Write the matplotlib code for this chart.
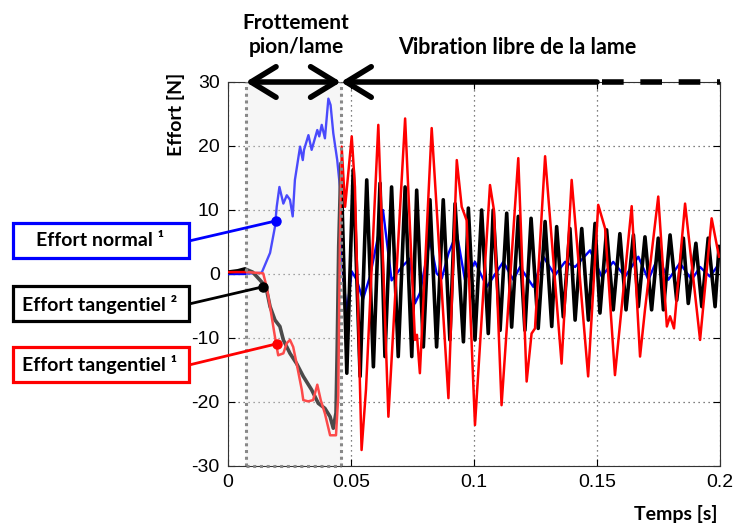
import matplotlib
matplotlib.use("Agg")
import matplotlib.pyplot as plt
from matplotlib.patches import Rectangle

plt.rcParams['axes.unicode_minus'] = False

# time [s] / force [N]
t_normal = [0.0, 0.006, 0.0137, 0.0171, 0.0191, 0.0198, 0.0209, 0.0225, 0.0239, 0.0252,
            0.0263, 0.0272, 0.0293, 0.0304, 0.0309, 0.0327, 0.0340, 0.0363, 0.0371, 0.0381,
            0.0394, 0.0408, 0.0417, 0.0428, 0.0444, 0.0455, 0.0467, 0.0483, 0.0503, 0.0523,
            0.0548, 0.0577, 0.0618, 0.0630, 0.0665, 0.0706, 0.0740, 0.0760, 0.0780, 0.0821,
            0.0848, 0.0869, 0.0896, 0.0930, 0.0963, 0.1004, 0.1052, 0.1119, 0.1160, 0.1187,
            0.1241, 0.1282, 0.1329, 0.1370, 0.1411, 0.1472, 0.1519, 0.1566, 0.1614, 0.1668,
            0.1709, 0.1749, 0.1790, 0.1837, 0.1885, 0.1919, 0.1959, 0.1987]
f_normal = [0.0, 0.0, 0.2, 3.3, 7.4, 10.5, 13.6, 11.0, 12.3, 11.6,
            9.0, 14.7, 19.9, 17.8, 19.4, 21.7, 19.4, 22.5, 21.5, 23.3,
            21.2, 27.4, 26.4, 22.0, 17.8, 13.6, 0.0, -6.1, 0.4, -0.9,
            -4.0, -0.4, 7.4, 10.0, -1.0, 1.1, 2.4, -4.6, -3.0, 5.3,
            0.1, -0.7, 3.2, 6.4, -0.9, 1.9, -2.0, 1.9, -0.9, 1.1,
            -2.0, 2.7, -0.2, 1.9, 1.1, 3.7, -0.4, 1.9, -0.4, 2.7,
            -0.9, 2.7, -0.9, 1.7, -0.9, 1.1, -0.4, 1.1]

t_tang2 = [0.0, 0.004, 0.0069, 0.0100, 0.0117, 0.0143, 0.0157, 0.0171, 0.0191, 0.0211,
           0.0225, 0.0252, 0.0279, 0.0306, 0.0340, 0.0367, 0.0394, 0.0415, 0.0428, 0.0439,
           0.0444, 0.0450, 0.0459, 0.0483, 0.0509, 0.0537, 0.0564, 0.0591, 0.0618, 0.0638,
           0.0665, 0.0692, 0.0720, 0.0747, 0.0767, 0.0794, 0.0821, 0.0848, 0.0875, 0.0902,
           0.0923, 0.0957, 0.0977, 0.1004, 0.1031, 0.1058, 0.1078, 0.1106, 0.1133, 0.1153,
           0.1180, 0.1207, 0.1232, 0.1261, 0.1289, 0.1316, 0.1336, 0.1363, 0.1390, 0.1411,
           0.1438, 0.1465, 0.1492, 0.1512, 0.1539, 0.1566, 0.1593, 0.1618, 0.1648, 0.1668,
           0.1695, 0.1722, 0.1749, 0.1770, 0.1797, 0.1824, 0.1851, 0.1871, 0.1902, 0.1926,
           0.1952, 0.1980, 0.1996]
f_tang2 = [0.3, 0.5, 0.8, 0.3, -0.4, -1.5, -2.5, -5.1, -7.2, -8.2,
           -10.3, -12.4, -14.0, -16.0, -18.1, -20.2, -21.0, -22.3, -24.1, -21.7,
           -11.4, 4.3, 17.3, -15.5, 16.3, -16.0, 14.7, -14.5, 14.2, -12.9,
           13.6, -12.9, 13.6, -12.9, 13.1, -11.4, 11.6, -11.4, 11.6, -10.3,
           11.0, -10.6, 10.3, -10.3, 10.0, -9.3, 10.0, -8.8, 9.5, -8.3,
           9.0, -8.8, 8.7, -8.5, 8.2, -8.2, 7.4, -6.7, 7.1, -7.2,
           7.1, -7.2, 7.9, -6.1, 6.9, -5.6, 6.3, -5.6, 6.1, -5.1,
           5.8, -5.6, 5.6, -5.6, 6.1, -4.1, 5.6, -4.6, 4.8, -5.1,
           5.6, -5.1, 4.3]

t_tang1 = [0.0, 0.008, 0.0143, 0.0157, 0.0171, 0.0184, 0.0195, 0.0204, 0.0225, 0.0239,
           0.0252, 0.0265, 0.0279, 0.0300, 0.0306, 0.0326, 0.0346, 0.0363, 0.0377, 0.0394,
           0.0415, 0.0439, 0.0448, 0.0455, 0.0462, 0.0476, 0.0503, 0.0516, 0.0543, 0.0561,
           0.0611, 0.0652, 0.0720, 0.0760, 0.0768, 0.0780, 0.0828, 0.0896, 0.0930, 0.0950,
           0.0970, 0.1004, 0.1065, 0.1081, 0.1112, 0.1180, 0.1214, 0.1234, 0.1248, 0.1289,
           0.1356, 0.1397, 0.1464, 0.1505, 0.1533, 0.1573, 0.1641, 0.1675, 0.1695, 0.1749,
           0.1784, 0.1797, 0.1813, 0.1858, 0.1919, 0.1966, 0.1996]
f_tang1 = [0.3, 0.3, 0.1, -2.0, -5.1, -8.2, -10.8, -12.7, -12.4, -10.8,
           -10.3, -11.4, -14.0, -18.1, -19.7, -19.9, -19.7, -17.3, -19.7, -21.8,
           -25.2, -25.2, -19.2, 5.0, 19.9, 10.5, 21.5, 13.6, -27.5, -18.0,
           23.3, -22.3, 24.3, -10.3, -9.5, -15.5, 22.8, -19.4, 17.8, 10.5,
           8.4, -23.6, 13.9, 10.0, -20.5, 18.1, -16.8, -9.3, -8.5, 18.4,
           -14.0, 14.7, -16.0, 10.8, 7.1, -15.8, 10.6, -12.9, -5.6, 12.1,
           -8.2, -6.6, -8.5, 11.0, -10.3, 8.7, 2.7]

# points where the label boxes are attached
label_names = ["Effort normal \u00b9", "Effort tangentiel \u00b2", "Effort tangentiel \u00b9"]
label_colors = ["#0000ff", "#000000", "#ff0000"]
label_t = [0.0195, 0.0142, 0.0199]
label_f = [8.3, -2.0, -10.9]

x_ticks = [0, 0.05, 0.1, 0.15, 0.2]
x_ticklabels = ["0", "0.05", "0.1", "0.15", "0.2"]
y_ticks = [-30, -20, -10, 0, 10, 20, 30]

t_contact = 0.0072
t_release = 0.0459

W, H = 739, 528
fig = plt.figure(figsize=(W / 100, H / 100), dpi=100)
ax = fig.add_axes([228 / W, 1 - 466 / H, (720 - 228) / W, (466 - 82) / H])

font_bold = "Lato"

# friction zone
ax.axvspan(t_contact, t_release, color="#f6f6f6", zorder=0)
ax.axvspan(t_contact, t_release, color="#f8f8f8", alpha=0.3, zorder=6, lw=0)
for xv in [t_contact, t_release]:
    ax.axvline(xv, color="#888888", lw=2.2, ls=(0, (1, 1.2)), zorder=7)
ax.plot([t_contact, t_release], [-30, -30], color="#888888", lw=2.2, ls=(0, (1, 1.2)), zorder=7, clip_on=False)

ax.plot(t_normal, f_normal, color="#0000ff", lw=1.7, zorder=3, solid_joinstyle="round")
ax.plot(t_tang2, f_tang2, color="#000000", lw=2.6, zorder=4, solid_joinstyle="round")
ax.plot(t_tang1, f_tang1, color="#ff0000", lw=1.8, zorder=5, solid_joinstyle="round")

ax.set_xlim(0, 0.2)
ax.set_ylim(-30, 30)
ax.set_xticks(x_ticks)
ax.set_xticklabels(x_ticklabels)
ax.set_yticks(y_ticks)
ax.grid(True, color="#555555", ls=(0, (1, 3)), lw=0.9)
ax.tick_params(direction="in", length=5, top=True, right=True, labelsize=14, pad=6)
for lab in ax.get_xticklabels() + ax.get_yticklabels():
    lab.set_family("Liberation Sans")
for sp in ax.spines.values():
    sp.set_color("#333333")

# arrows along the top
arrow_kw = dict(color="black", lw=4, shrinkA=0, shrinkB=0, mutation_scale=20)
ax.annotate("", xy=(t_contact, 30), xytext=(t_release, 30), annotation_clip=False,
            arrowprops=dict(arrowstyle="<->,head_length=0.9,head_width=0.55", **arrow_kw), zorder=10)
ax.annotate("", xy=(t_release, 30), xytext=(0.15, 30), annotation_clip=False,
            arrowprops=dict(arrowstyle="->,head_length=0.9,head_width=0.55", **arrow_kw), zorder=10)
ax.plot([0.1519, 0.2], [30, 30], color="black", lw=4, ls=(0, (3.9, 3.0)),
        solid_capstyle="butt", dash_capstyle="butt", clip_on=False, zorder=10)

fig.text(296 / W, 1 - 35 / H, "Frottement\npion/lame", ha="center", va="center",
         fontsize=15, fontweight="bold", family=font_bold, linespacing=1.2)
fig.text(517 / W, 1 - 48 / H, "Vibration libre de la lame", ha="center", va="center",
         fontsize=15.5, fontweight="bold", family=font_bold)
fig.text(176 / W, 1 - 114 / H, "Effort [N]", ha="center", va="center", rotation=90,
         fontsize=14, fontweight="bold", family=font_bold)
fig.text(718 / W, 1 - 514 / H, "Temps [s]", ha="right", va="center",
         fontsize=14, fontweight="bold", family=font_bold)

# label boxes with connectors
box_y = [241, 304, 365]
for name, col, bt, bf, by in zip(label_names, label_colors, label_t, label_f, box_y):
    fig.patches.append(Rectangle((13 / W, 1 - (by + 17) / H), 176 / W, 35 / H,
                                 transform=fig.transFigure, facecolor="white",
                                 edgecolor=col, lw=2.3, zorder=10))
    fig.text(100 / W, 1 - by / H, name, ha="center", va="center", fontsize=14,
             fontweight="bold", family=font_bold, zorder=11)
    ax.annotate("", xy=(bt, bf), xycoords="data", xytext=(189, H - by),
                textcoords="figure pixels", annotation_clip=False,
                arrowprops=dict(arrowstyle="-", color=col, lw=2, shrinkA=0, shrinkB=0), zorder=8)
    ax.plot([bt], [bf], "o", color=col, ms=6.5, zorder=9)

fig.savefig("out.png", dpi=100)
